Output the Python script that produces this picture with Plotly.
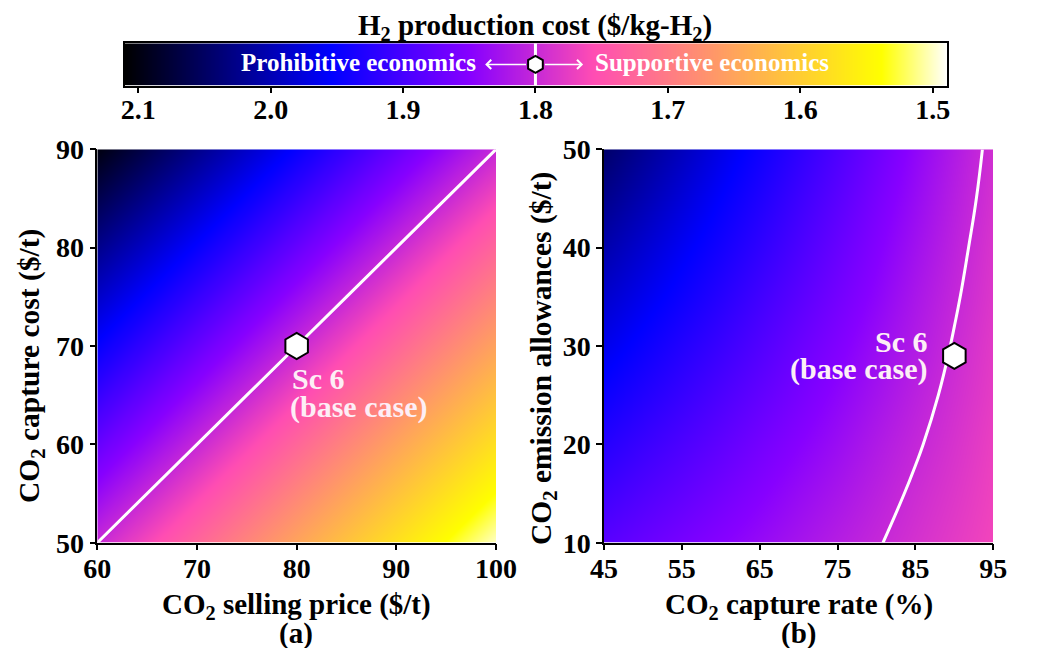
import plotly.graph_objects as go

# ---------------- data ----------------
# (a) CO2 selling price vs CO2 capture cost
a_price = [60, 70, 80, 90, 100]          # $/t (x)
a_capture_cost = [50, 60, 70, 80, 90]    # $/t (y)
a_cost = [                               # H2 production cost ($/kg-H2), rows follow a_capture_cost
    [1.800, 1.725, 1.650, 1.575, 1.500],
    [1.875, 1.800, 1.725, 1.650, 1.575],
    [1.950, 1.875, 1.800, 1.725, 1.650],
    [2.025, 1.950, 1.875, 1.800, 1.725],
    [2.100, 2.025, 1.950, 1.875, 1.800],
]

# (b) CO2 capture rate vs CO2 emission allowances
b_rate = [45, 50, 55, 60, 65, 70, 75, 80, 85, 90, 95]   # % (x)
b_allow = [10, 15, 20, 25, 30, 35, 40, 45, 50]           # $/t (y)
b_cost = [
    [1.886, 1.874, 1.862, 1.850, 1.838, 1.826, 1.814, 1.802, 1.790, 1.778, 1.766],
    [1.906, 1.892, 1.879, 1.865, 1.851, 1.837, 1.824, 1.810, 1.796, 1.783, 1.769],
    [1.926, 1.910, 1.895, 1.880, 1.864, 1.849, 1.834, 1.818, 1.803, 1.788, 1.772],
    [1.946, 1.929, 1.912, 1.895, 1.878, 1.861, 1.844, 1.827, 1.810, 1.793, 1.776],
    [1.966, 1.947, 1.928, 1.910, 1.891, 1.872, 1.854, 1.835, 1.817, 1.798, 1.779],
    [1.985, 1.965, 1.945, 1.925, 1.904, 1.884, 1.864, 1.844, 1.823, 1.803, 1.783],
    [2.005, 1.983, 1.961, 1.940, 1.918, 1.896, 1.874, 1.852, 1.830, 1.808, 1.786],
    [2.025, 2.002, 1.978, 1.954, 1.931, 1.907, 1.884, 1.860, 1.837, 1.813, 1.790],
    [2.045, 2.020, 1.995, 1.969, 1.944, 1.919, 1.894, 1.869, 1.843, 1.818, 1.793],
]
b_xticks = [45, 55, 65, 75, 85, 95]
b_yticks = [10, 20, 30, 40, 50]

base_case_a = (80, 70)
base_case_b = (90, 29)
threshold = 1.8

cbar_min, cbar_max = 1.4894, 2.11
cbar_ticks = [2.1, 2.0, 1.9, 1.8, 1.7, 1.6, 1.5]
cbar_ticktext = ["2.1", "2.0", "1.9", "1.8", "1.7", "1.6", "1.5"]

# ---------------- style ----------------
OFF = 8                      # page body margin
W, H = 1043 - OFF, 648 - OFF
FONT = "Liberation Serif"
TXT = "#fdeef6"

# gnuplot2 colormap (reversed: low cost -> white, high cost -> black)
cscale = [
    [0.00, "rgb(255,255,255)"],
    [0.08, "rgb(255,255,0)"],
    [0.43, "rgb(255,77,179)"],
    [0.58, "rgb(135,0,255)"],
    [0.75, "rgb(0,0,255)"],
    [1.00, "rgb(0,0,0)"],
]


def px(x):
    return (x - OFF) / W


def py(y):
    return 1 - (y - OFF) / H


fig = go.Figure()

# heatmaps
fig.add_trace(go.Heatmap(x=a_price, y=a_capture_cost, z=a_cost, zsmooth="best",
                         colorscale=cscale, zmin=cbar_min, zmax=cbar_max,
                         showscale=False, xaxis="x", yaxis="y", hoverinfo="skip"))
fig.add_trace(go.Heatmap(x=b_rate, y=b_allow, z=b_cost, zsmooth="best",
                         colorscale=cscale, zmin=cbar_min, zmax=cbar_max,
                         showscale=False, xaxis="x2", yaxis="y2", hoverinfo="skip"))

# threshold contour lines
for xs, ys, zs, xa, ya in [(a_price, a_capture_cost, a_cost, "x", "y"),
                           (b_rate, b_allow, b_cost, "x2", "y2")]:
    fig.add_trace(go.Contour(x=xs, y=ys, z=zs, autocontour=False,
                             contours=dict(start=threshold, end=threshold, size=0.1,
                                           coloring="none", showlabels=False),
                             line=dict(color="white", width=3, smoothing=1.3),
                             showscale=False, xaxis=xa, yaxis=ya, hoverinfo="skip"))

# base case markers
hexm = dict(symbol="hexagon", size=26, color="white", line=dict(color="black", width=2))
fig.add_trace(go.Scatter(x=[base_case_a[0]], y=[base_case_a[1]], mode="markers",
                         marker=hexm, xaxis="x", yaxis="y", hoverinfo="skip"))
fig.add_trace(go.Scatter(x=[base_case_b[0]], y=[base_case_b[1]], mode="markers",
                         marker=hexm, xaxis="x2", yaxis="y2", hoverinfo="skip"))

# colour bar strip (its own axes, reversed)
fig.add_trace(go.Heatmap(x=[cbar_min, cbar_max], y=[0, 1],
                         z=[[cbar_min, cbar_max], [cbar_min, cbar_max]], zsmooth="best",
                         colorscale=cscale, zmin=cbar_min, zmax=cbar_max,
                         showscale=False, xaxis="x3", yaxis="y3", hoverinfo="skip"))
fig.add_trace(go.Scatter(x=[threshold, threshold], y=[0, 1], mode="lines",
                         line=dict(color="white", width=3), xaxis="x3", yaxis="y3",
                         hoverinfo="skip"))
fig.add_trace(go.Scatter(x=[threshold], y=[0.5], mode="markers",
                         marker=dict(symbol="hexagon", size=17, color="white",
                                     line=dict(color="black", width=2)),
                         xaxis="x3", yaxis="y3", hoverinfo="skip"))

tickfont = dict(family=FONT, size=28, color="black", weight="bold")
axis_common = dict(showline=True, linecolor="black", linewidth=1.5, ticks="outside",
                   ticklen=6, tickwidth=1.5, tickcolor="black", mirror=False,
                   showgrid=False, zeroline=False, tickfont=tickfont, automargin=False)

ya_dom = [py(542.7), py(149.3)]
fig.update_layout(
    template="none",
    width=W, height=H, margin=dict(l=0, r=0, t=0, b=0, pad=0, autoexpand=False),
    paper_bgcolor="white", plot_bgcolor="white", showlegend=False,
    font=dict(family=FONT, weight="bold", color="black"),
    xaxis=dict(domain=[px(97.3), px(496)], range=[60, 100], tickvals=a_price,
               anchor="y", ticklabelstandoff=-6, **axis_common),
    yaxis=dict(domain=ya_dom, range=[50, 90], tickvals=a_capture_cost,
               anchor="x", **axis_common),
    xaxis2=dict(domain=[px(604), px(993.3)], range=[45, 95],
                tickvals=b_xticks, anchor="y2", ticklabelstandoff=-6, **axis_common),
    yaxis2=dict(domain=ya_dom, range=[10, 50], tickvals=b_yticks,
                anchor="x2", **axis_common),
    xaxis3=dict(domain=[px(125), px(946.7)], range=[cbar_max, cbar_min],
                tickvals=cbar_ticks, ticktext=cbar_ticktext, anchor="y3",
                showline=True, linecolor="black", linewidth=1.5, mirror=True,
                ticks="outside", ticklen=6, tickwidth=1.5, tickcolor="black",
                ticklabelstandoff=-8,
                showgrid=False, zeroline=False, tickfont=tickfont, automargin=False),
    yaxis3=dict(domain=[py(85.5), py(43.3)], range=[0, 1], anchor="x3",
                showline=True, linecolor="black", linewidth=1.5, mirror=True,
                ticks="", showticklabels=False, showgrid=False, zeroline=False,
                automargin=False),
)

ann = []
ttl = dict(family=FONT, size=29, color="black", weight="bold")
ytl = dict(family=FONT, size=29.5, color="black", weight="bold")
# colour bar title
ann.append(dict(x=px(535), y=py(27), xref="paper", yref="paper",
                text="H<sub>2</sub> production cost ($/kg-H<sub>2</sub>)",
                showarrow=False, font=ttl, xanchor="center", yanchor="middle"))
# axis titles
ann.append(dict(x=px(296), y=py(606), xref="paper", yref="paper",
                text="CO<sub>2</sub> selling price ($/t)", showarrow=False, font=ttl,
                xanchor="center", yanchor="middle"))
ann.append(dict(x=px(296), y=py(633), xref="paper", yref="paper", text="(a)",
                showarrow=False, font=ttl, xanchor="center", yanchor="middle"))
ann.append(dict(x=px(799), y=py(606), xref="paper", yref="paper",
                text="CO<sub>2</sub> capture rate (%)", showarrow=False, font=ttl,
                xanchor="center", yanchor="middle"))
ann.append(dict(x=px(798), y=py(633), xref="paper", yref="paper", text="(b)",
                showarrow=False, font=ttl, xanchor="center", yanchor="middle"))
ann.append(dict(x=px(31), y=py(366), xref="paper", yref="paper",
                text="CO<sub>2</sub> capture cost ($/t)", textangle=-90, showarrow=False,
                font=ytl, xanchor="center", yanchor="middle"))
ann.append(dict(x=px(543), y=py(359), xref="paper", yref="paper",
                text="CO<sub>2</sub> emission allowances ($/t)", textangle=-90,
                showarrow=False, font=ytl, xanchor="center", yanchor="middle"))

# in-plot labels
lab = dict(family=FONT, size=30, color=TXT, weight="bold")
ann.append(dict(x=79.3, y=66.7, xref="x", yref="y", text="Sc 6", showarrow=False,
                font=lab, xanchor="left", yanchor="middle"))
ann.append(dict(x=79.1, y=63.8, xref="x", yref="y", text="(base case)", showarrow=False,
                font=lab, xanchor="left", yanchor="middle"))
ann.append(dict(x=86.9, y=30.5, xref="x2", yref="y2", text="Sc 6", showarrow=False,
                font=lab, xanchor="right", yanchor="middle"))
ann.append(dict(x=86.7, y=27.7, xref="x2", yref="y2", text="(base case)", showarrow=False,
                font=lab, xanchor="right", yanchor="middle"))

# bar texts and arrows
bar = dict(family=FONT, size=25, color="white", weight="bold")
ann.append(dict(x=1.8434, y=0.55, xref="x3", yref="y3", text="Prohibitive economics",
                showarrow=False, font=bar, xanchor="right", yanchor="middle"))
ann.append(dict(x=1.7566, y=0.55, xref="x3", yref="y3", text="Supportive economics",
                showarrow=False, font=bar, xanchor="left", yanchor="middle"))
ann.append(dict(x=1.838, y=0.5, ax=1.806, ay=0.5, xref="x3", yref="y3",
                axref="x3", ayref="y3", text="", showarrow=True, arrowhead=4,
                arrowsize=1.2, arrowwidth=1.5, arrowcolor="white"))
ann.append(dict(x=1.764, y=0.5, ax=1.794, ay=0.5, xref="x3", yref="y3",
                axref="x3", ayref="y3", text="", showarrow=True, arrowhead=4,
                arrowsize=1.2, arrowwidth=1.5, arrowcolor="white"))

fig.update_layout(annotations=ann)
fig.write_html("out.html")
